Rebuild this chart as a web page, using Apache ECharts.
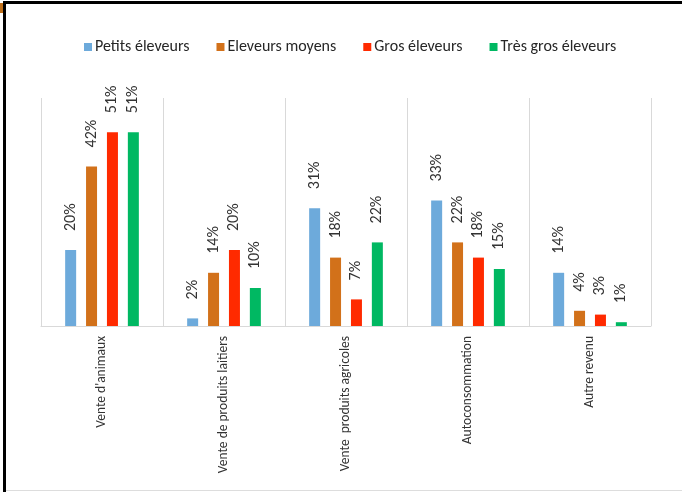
<!DOCTYPE html>
<html>
<head>
<meta charset="utf-8">
<script src="https://cdn.jsdelivr.net/npm/echarts@6/dist/echarts.min.js"></script>
<style>
html,body{margin:0;padding:0;background:#fff;}
#chart{width:682px;height:492px;}
</style>
</head>
<body>
<div id="chart"></div>
<script>
var categories = ["Vente d'animaux", "Vente de produits laitiers", "Vente  produits agricoles", "Autoconsommation", "Autre revenu"];
var seriesNames = ["Petits éleveurs", "Eleveurs moyens", "Gros éleveurs", "Très gros éleveurs"];
var petits = [20, 2, 31, 33, 14];
var moyens = [42, 14, 18, 22, 4];
var gros = [51, 20, 7, 18, 3];
var tresGros = [51, 10, 22, 15, 1];
var colors = ["#6DAADB", "#D2711A", "#FF2A00", "#00B862"];

var FONT = "Carlito, Lato, sans-serif";
var chart = echarts.init(document.getElementById('chart'));
var dataSets = [petits, moyens, gros, tresGros];
var series = dataSets.map(function (d, i) {
  return {
    name: seriesNames[i],
    type: 'bar',
    data: d,
    barWidth: 11,
    barGap: '90%',
    itemStyle: { color: colors[i] },
    label: {
      show: true,
      position: 'top',
      rotate: 90,
      align: 'left',
      verticalAlign: 'middle',
      distance: 19,
      formatter: '{c}%',
      fontFamily: FONT,
      fontSize: 16,
      color: '#333333'
    }
  };
});

chart.setOption({
  animation: false,
  backgroundColor: '#fff',
  color: colors,
  legend: {
    top: 34,
    left: 79,
    itemWidth: 8,
    itemHeight: 8,
    itemGap: 27,
    icon: 'rect',
    textStyle: { fontFamily: FONT, fontSize: 16, color: '#262626', padding: [0, 0, 0, -2] },
    data: seriesNames
  },
  grid: { left: 41, right: 31, top: 98, bottom: 166 },
  xAxis: {
    type: 'category',
    data: categories,
    axisLine: { show: true, lineStyle: { color: '#D9D9D9', width: 1 } },
    axisTick: { show: false },
    splitLine: { show: true, lineStyle: { color: '#D9D9D9', width: 1 } },
    axisLabel: {
      rotate: 90,
      margin: 10,
      interval: 0,
      fontFamily: FONT,
      fontSize: 13.5,
      color: '#333333'
    }
  },
  yAxis: {
    type: 'value',
    min: 0,
    max: 60,
    show: false,
    splitLine: { show: false }
  },
  graphic: [
    { type: 'rect', shape: { x: 0, y: 3, width: 3, height: 10 }, style: { fill: '#C0701A' } },
    { type: 'rect', shape: { x: 3, y: 1, width: 679, height: 3 }, style: { fill: '#000' } },
    { type: 'rect', shape: { x: 3, y: 1, width: 3, height: 491 }, style: { fill: '#000' } },
    { type: 'rect', shape: { x: 6, y: 490, width: 676, height: 1 }, style: { fill: '#DDDDDD' } }
  ],
  series: series
});
</script>
</body>
</html>
